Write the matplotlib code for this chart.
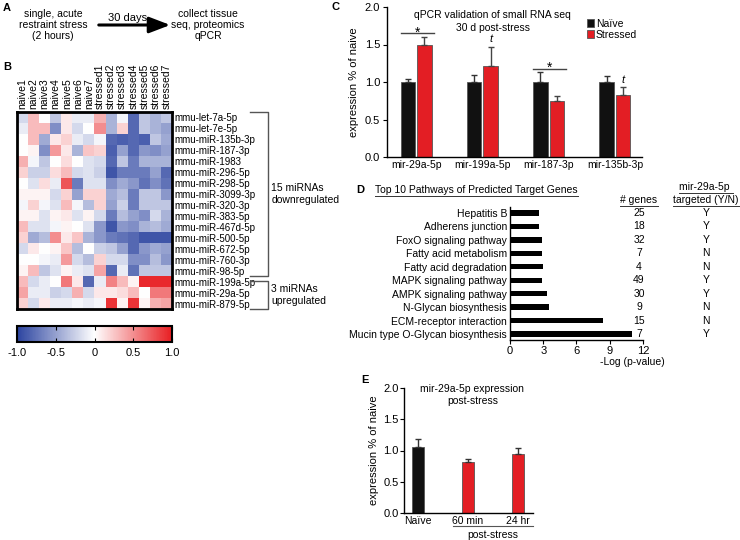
import numpy as np
import matplotlib
matplotlib.use('Agg')
import matplotlib.pyplot as plt
from matplotlib.colors import LinearSegmentedColormap
from matplotlib.transforms import blended_transform_factory

plt.rcParams['font.family'] = ['Liberation Sans', 'DejaVu Sans']
plt.rcParams['font.size'] = 7.5
plt.rcParams['axes.linewidth'] = 1.0

W, H = 740, 540

# ---------------------------------------------------------------------------
# data
# ---------------------------------------------------------------------------
samples = ['naive1', 'naive2', 'naive3', 'naive4', 'naive5', 'naive6', 'naive7',
           'stressed1', 'stressed2', 'stressed3', 'stressed4', 'stressed5',
           'stressed6', 'stressed7']
mirnas = ['mmu-let-7a-5p', 'mmu-let-7e-5p', 'mmu-miR-135b-3p', 'mmu-miR-187-3p',
          'mmu-miR-1983', 'mmu-miR-296-5p', 'mmu-miR-298-5p', 'mmu-miR-3099-3p',
          'mmu-miR-320-3p', 'mmu-miR-383-5p', 'mmu-miR-467d-5p', 'mmu-miR-500-5p',
          'mmu-miR-672-5p', 'mmu-miR-760-3p', 'mmu-miR-98-5p',
          'mmu-miR-199a-5p', 'mmu-miR-29a-5p', 'mmu-miR-879-5p']
n_down = 15
heat = np.array([
    [-0.20, 0.30, 0.00, -0.30, 0.10, -0.10, -0.10, 0.35, -0.40, -0.05, -0.80, -0.30, -0.40, -0.30],
    [-0.10, 0.30, 0.30, -0.60, 0.10, -0.20, 0.00, 0.50, -0.40, 0.20, -0.80, -0.30, -0.40, -0.50],
    [0.00, 0.30, -0.45, 0.10, 0.20, -0.10, -0.20, -0.05, -0.80, -0.85, -0.80, -0.85, -0.30, -0.45],
    [0.00, 0.05, -0.60, 0.45, 0.10, -0.40, 0.25, 0.20, -0.85, -0.50, -0.80, -0.55, -0.60, -0.50],
    [0.35, -0.05, -0.30, 0.00, 0.15, 0.00, -0.15, -0.20, -0.80, -0.30, -0.70, -0.40, -0.40, -0.40],
    [0.20, -0.25, -0.25, 0.15, 0.30, -0.20, -0.15, -0.25, -0.90, -0.70, -0.70, -0.70, -0.50, -0.80],
    [0.00, -0.15, 0.15, -0.10, 0.75, -0.70, -0.15, -0.15, -0.60, -0.45, -0.55, -0.75, -0.60, -0.75],
    [0.05, 0.05, 0.05, -0.20, 0.20, -0.50, 0.20, 0.20, -0.45, -0.35, -0.70, -0.30, -0.30, -0.55],
    [-0.05, 0.20, -0.05, -0.15, 0.30, -0.05, -0.35, 0.20, -0.50, -0.25, -0.70, -0.30, -0.30, -0.30],
    [0.05, 0.05, -0.15, 0.05, 0.10, -0.15, 0.05, -0.20, -0.70, -0.35, -0.50, -0.60, -0.20, -0.40],
    [0.30, -0.15, -0.15, -0.05, 0.05, 0.00, -0.15, -0.55, -0.90, -0.55, -0.60, -0.40, -0.35, -0.45],
    [0.20, -0.45, -0.35, 0.50, 0.10, 0.25, -0.40, -0.55, -0.70, -0.75, -0.80, -0.90, -0.90, -0.90],
    [-0.20, 0.10, 0.00, 0.05, 0.25, -0.35, 0.00, -0.25, -0.30, -0.50, -0.80, -0.55, -0.45, -0.50],
    [0.00, 0.00, -0.05, -0.10, 0.45, -0.20, -0.35, 0.20, -0.20, -0.20, -0.60, -0.60, -0.35, -0.55],
    [0.05, 0.30, -0.30, -0.15, 0.05, -0.10, -0.15, 0.40, -0.80, -0.10, -0.75, -0.30, -0.30, -0.30],
    [0.30, -0.20, -0.10, 0.00, 0.60, 0.10, -0.80, -0.10, 0.55, 0.30, 0.05, 0.95, 0.95, 0.95],
    [0.40, -0.10, -0.10, -0.25, -0.20, 0.35, -0.20, 0.10, 0.10, 0.15, 0.30, 0.00, 0.60, 0.60],
    [0.20, -0.20, 0.10, -0.10, -0.10, -0.05, -0.10, -0.05, 0.90, 0.05, 0.90, 0.05, 0.35, 0.40],
])

qpcr_genes = ['mir-29a-5p', 'mir-199a-5p', 'mir-187-3p', 'mir-135b-3p']
qpcr_naive = [1.0, 1.0, 1.0, 1.0]
qpcr_naive_err = [0.04, 0.10, 0.13, 0.08]
qpcr_stressed = [1.50, 1.21, 0.75, 0.83]
qpcr_stressed_err = [0.10, 0.26, 0.07, 0.10]
qpcr_sig = ['*', 't', '*', 't']

pathways = ['Hepatitis B', 'Adherens junction', 'FoxO signaling pathway',
            'Fatty acid metabolism', 'Fatty acid degradation', 'MAPK signaling pathway',
            'AMPK signaling pathway', 'N-Glycan biosynthesis', 'ECM-receptor interaction',
            'Mucin type O-Glycan biosynthesis']
pathway_logp = [2.6, 2.6, 2.85, 2.85, 2.95, 2.9, 3.35, 3.5, 8.35, 11.0]
pathway_genes = [25, 18, 32, 7, 4, 49, 30, 9, 15, 7]
pathway_targeted = ['Y', 'Y', 'Y', 'N', 'N', 'Y', 'Y', 'N', 'N', 'Y']

time_labels = ['Naïve', '60 min', '24 hr']
time_expr = [1.05, 0.82, 0.94]
time_err = [0.13, 0.05, 0.10]

BLACK = '#111111'
RED = '#e31e24'
EDGE = '#555555'


def rect(x0, y0, x1, y1):
    # pixel box (top-left origin) -> figure fraction
    return [x0 / W, 1 - y1 / H, (x1 - x0) / W, (y1 - y0) / H]


fig = plt.figure(figsize=(W / 100, H / 100), dpi=100)
ov = fig.add_axes([0, 0, 1, 1])
ov.set_xlim(0, W)
ov.set_ylim(H, 0)
ov.axis('off')


def underline(txt, dy=0.5):
    r = fig.canvas.get_renderer()
    bb = txt.get_window_extent(renderer=r)
    inv = ov.transData.inverted()
    (xa, ya), (xb, yb) = inv.transform([[bb.x0, bb.y0], [bb.x1, bb.y1]])
    y = max(ya, yb) + dy
    ov.plot([xa, xb], [y, y], color='#333333', lw=0.7)


# panel letters
for lab, (x, y) in {'A': (3, 8), 'B': (3, 67), 'C': (331, 7), 'D': (356, 190), 'E': (361, 380)}.items():
    ov.text(x, y, lab, fontsize=8, fontweight='bold', va='center', ha='left')

# ---------------------------------------------------------------------------
# A: design
# ---------------------------------------------------------------------------
ov.text(53, 25, 'single, acute\nrestraint stress\n(2 hours)', ha='center', va='center',
        linespacing=1.15)
ov.annotate('', xy=(173, 25), xytext=(96, 25),
            arrowprops=dict(arrowstyle='-|>,head_length=1.7,head_width=0.65', lw=2.2, color='k'))
ov.text(128, 18, '30 days', ha='center', va='center', fontsize=8)
ov.text(208, 25, 'collect tissue\nseq, proteomics\nqPCR', ha='center', va='center',
        linespacing=1.15)

# ---------------------------------------------------------------------------
# B: heatmap
# ---------------------------------------------------------------------------
cmap = LinearSegmentedColormap.from_list('bwr_fig', ['#2c44a0', '#ffffff', '#e81e22'])
ax_h = fig.add_axes(rect(17, 112, 172, 309))
im = ax_h.imshow(heat, cmap=cmap, vmin=-1, vmax=1, aspect='auto', interpolation='nearest')
ax_h.set_xticks(range(len(samples)))
ax_h.set_xticklabels(samples, rotation=90, fontsize=7.5)
ax_h.xaxis.tick_top()
ax_h.set_yticks(range(len(mirnas)))
ax_h.set_yticklabels(mirnas, fontsize=7)
ax_h.yaxis.tick_right()
ax_h.tick_params(length=0, pad=2)
for s in ax_h.spines.values():
    s.set_linewidth(2)

tb = blended_transform_factory(ax_h.transAxes, ax_h.transData)
groups = [(-0.5, n_down - 0.5, '15 miRNAs\ndownregulated'),
          (n_down - 0.5 + 0.4, len(mirnas) - 0.5, '3 miRNAs\nupregulated')]
for y0, y1, lab in groups:
    ax_h.plot([1.50, 1.62, 1.62, 1.50], [y0, y0, y1, y1], color='#555555', lw=1,
              transform=tb, clip_on=False)
    ax_h.text(1.64, (y0 + y1) / 2, lab, transform=tb, ha='left', va='center', fontsize=7.5)

cax = fig.add_axes(rect(17, 326, 172, 342))
cb = fig.colorbar(im, cax=cax, orientation='horizontal', ticks=[-1, -0.5, 0, 0.5, 1])
cb.ax.set_xticklabels(['-1.0', '-0.5', '0', '0.5', '1.0'], fontsize=8)
cb.ax.tick_params(direction='in', length=3, top=True, bottom=True, width=0.8, pad=4)
cb.outline.set_linewidth(1.5)

# ---------------------------------------------------------------------------
# C: qPCR validation
# ---------------------------------------------------------------------------
ax_c = fig.add_axes(rect(387, 7, 642, 157))
xc = np.arange(len(qpcr_genes))
off, bw = 0.125, 0.22
ax_c.bar(xc - off, qpcr_naive, bw, color=BLACK, edgecolor=EDGE, lw=0.6, label='Naïve')
ax_c.bar(xc + off, qpcr_stressed, bw, color=RED, edgecolor=EDGE, lw=0.6, label='Stressed')
ax_c.errorbar(xc - off, qpcr_naive, yerr=[np.zeros(4), qpcr_naive_err], fmt='none',
              ecolor='#333333', elinewidth=1, capsize=2.5, capthick=1)
ax_c.errorbar(xc + off, qpcr_stressed, yerr=[np.zeros(4), qpcr_stressed_err], fmt='none',
              ecolor='#444444', elinewidth=1, capsize=2.5, capthick=1)
for i, mark in enumerate(qpcr_sig):
    top = max(qpcr_naive[i] + qpcr_naive_err[i], qpcr_stressed[i] + qpcr_stressed_err[i])
    if mark == '*':
        yl = top + 0.05
        ax_c.plot([i - 0.23, i + 0.27], [yl, yl], color='#444444', lw=1)
        ax_c.text(i + 0.02, yl + 0.01, '*', ha='center', va='center', fontsize=10)
    else:
        ax_c.text(i + off, qpcr_stressed[i] + qpcr_stressed_err[i] + 0.1, 't',
                  ha='center', va='center', fontsize=8, style='italic')
ax_c.set_xlim(-0.44, 3.41)
ax_c.set_ylim(0, 2)
ax_c.set_yticks([0, 0.5, 1.0, 1.5, 2.0])
ax_c.set_yticklabels(['0.0', '0.5', '1.0', '1.5', '2.0'], fontsize=8)
ax_c.set_xticks(xc)
ax_c.set_xticklabels(qpcr_genes, fontsize=7.5)
ax_c.tick_params(axis='x', length=0, pad=2)
ax_c.tick_params(axis='y', length=3, pad=2)
ax_c.spines[['top', 'right']].set_visible(False)
ax_c.set_ylabel('expression % of naive', fontsize=8, labelpad=4)
# title as two separate lines so the star can sit under the first one
ax_c.text(0.415, 0.945, 'qPCR validation of small RNA seq', transform=ax_c.transAxes,
          ha='center', va='center', fontsize=7.5)
ax_c.text(0.415, 0.86, '30 d post-stress', transform=ax_c.transAxes,
          ha='center', va='center', fontsize=7.5)
ax_c.legend(loc='upper left', bbox_to_anchor=(0.785, 0.92), frameon=False, fontsize=7.5,
            handlelength=0.7, handleheight=0.8, handletextpad=0.15, labelspacing=0.1,
            borderpad=0, borderaxespad=0)

# ---------------------------------------------------------------------------
# D: pathways
# ---------------------------------------------------------------------------
ax_d = fig.add_axes(rect(510, 207, 643, 340))
yd = np.arange(len(pathways))
ax_d.barh(yd, pathway_logp, height=0.4, color='k')
ax_d.set_ylim(len(pathways) - 0.55, -0.45)
ax_d.set_xlim(0, 12)
ax_d.set_yticks(yd)
ax_d.set_yticklabels(pathways, fontsize=7.5)
ax_d.set_xticks([0, 3, 6, 9, 12])
ax_d.tick_params(axis='y', length=0, pad=2)
ax_d.tick_params(axis='x', length=3, pad=1, labelsize=8)
ax_d.spines[['top', 'right']].set_visible(False)
ax_d.set_xlabel('-Log (p-value)', fontsize=7.5)
ax_d.xaxis.set_label_coords(0.92, -0.13)

td = blended_transform_factory(ax_d.transAxes, ax_d.transData)
for i in range(len(pathways)):
    ax_d.text(0.97, yd[i], str(pathway_genes[i]), transform=td, ha='center', va='center', fontsize=7.5)
    ax_d.text(1.475, yd[i], pathway_targeted[i], transform=td, ha='center', va='center', fontsize=7.5)

t_d = ov.text(375, 190, 'Top 10 Pathways of Predicted Target Genes', ha='left', va='center', fontsize=7.5)
t_g = ov.text(639, 200, '# genes', ha='center', va='center', fontsize=7.5)
t_m1 = ov.text(706, 187, 'mir-29a-5p ', ha='center', va='center', fontsize=7.5)
t_m2 = ov.text(706, 200, 'targeted (Y/N)', ha='center', va='center', fontsize=7.5)

# ---------------------------------------------------------------------------
# E: time course
# ---------------------------------------------------------------------------
ax_e = fig.add_axes(rect(404, 388, 533, 513))
xe = np.arange(len(time_labels))
ax_e.bar(xe, time_expr, 0.25, color=[BLACK, RED, RED], edgecolor=EDGE, lw=0.6)
ax_e.errorbar(xe, time_expr, yerr=[np.zeros(3), time_err], fmt='none', ecolor='#333333',
              elinewidth=1, capsize=2.5, capthick=1)
ax_e.set_xlim(-0.28, 2.3)
ax_e.set_ylim(0, 2)
ax_e.set_yticks([0, 0.5, 1.0, 1.5, 2.0])
ax_e.set_yticklabels(['0.0', '0.5', '1.0', '1.5', '2.0'], fontsize=8)
ax_e.set_xticks(xe)
ax_e.set_xticklabels(time_labels, fontsize=7.5)
ax_e.tick_params(axis='x', length=0, pad=2)
ax_e.tick_params(axis='y', length=3, pad=1)
ax_e.spines[['top', 'right']].set_visible(False)
ax_e.set_ylabel('expression % of naive', fontsize=8, labelpad=3)
ax_e.text(0.53, 1.03, 'mir-29a-5p expression\npost-stress', transform=ax_e.transAxes,
          ha='center', va='top', fontsize=7.5, linespacing=1.2)
te = blended_transform_factory(ax_e.transData, ax_e.transAxes)
ax_e.plot([0.7, 2.3], [-0.104, -0.104], color='#555555', lw=0.8, transform=te, clip_on=False)
ax_e.text(1.5, -0.175, 'post-stress', transform=te, ha='center', va='center', fontsize=7.5)

for t in (t_d, t_g, t_m1, t_m2):
    underline(t)

fig.savefig('out.png', dpi=100)
